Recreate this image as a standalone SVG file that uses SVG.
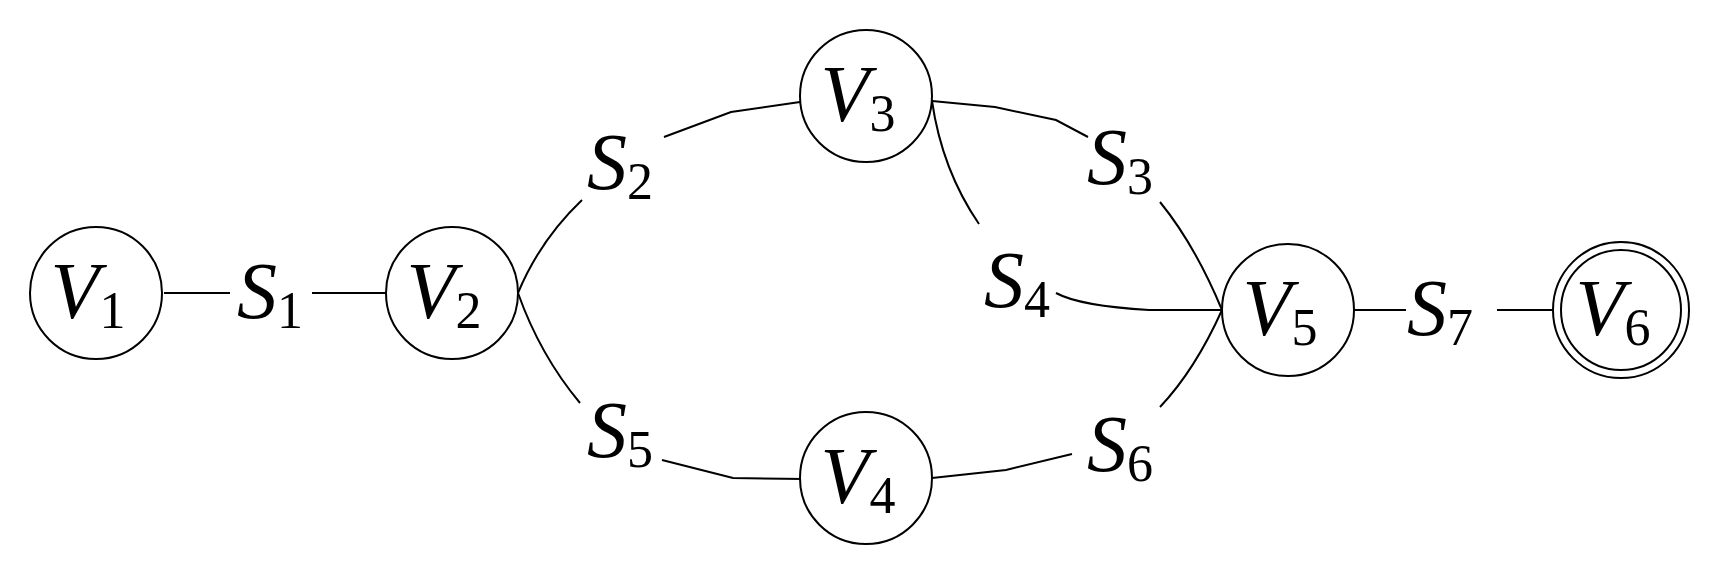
<svg xmlns="http://www.w3.org/2000/svg" width="1715" height="584" viewBox="0 0 1715 584">
<style>
.n{fill:#fff;stroke:#000;stroke-width:2}
.e{fill:none;stroke:#000;stroke-width:2}
text{font-family:"Liberation Serif",serif;font-style:italic;font-size:80px;text-anchor:middle}
.s{font-style:normal;font-size:52px}
</style>
<rect width="1715" height="584" fill="#fff"/>
<g id="edges">
<path class="e" d="M164,293H230M312,293H388"/>
<path class="e" d="M518,293Q540,240 582,200M664,137L731,112L800,102"/>
<path class="e" d="M932,101L995,107L1056,120L1088,137M1160,202Q1195,245 1222,310"/>
<path class="e" d="M932,101Q942,170 979,224M1056,293Q1080,306 1149,310L1222,310"/>
<path class="e" d="M518,293Q540,355 580,403M662,460L733,478L804,479"/>
<path class="e" d="M932,478L1006,470L1072,454M1160,407Q1195,370 1222,310"/>
<path class="e" d="M1354,310H1406M1497,310H1555"/>
</g>
<g id="V1"><circle class="n" cx="96" cy="293" r="66"/><text x="88" y="318">V<tspan class="s" dy="10">1</tspan></text></g>
<g id="V2"><circle class="n" cx="452" cy="293" r="66"/><text x="444" y="318">V<tspan class="s" dy="10">2</tspan></text></g>
<g id="V3"><circle class="n" cx="866" cy="96" r="66"/><text x="858" y="121">V<tspan class="s" dy="10">3</tspan></text></g>
<g id="V4"><circle class="n" cx="866" cy="478" r="66"/><text x="858" y="503">V<tspan class="s" dy="10">4</tspan></text></g>
<g id="V5"><circle class="n" cx="1288" cy="310" r="66"/><text x="1280" y="335">V<tspan class="s" dy="10">5</tspan></text></g>
<g id="V6"><circle class="n" cx="1621" cy="310" r="68"/><circle class="n" cx="1621" cy="310" r="60"/><text x="1613" y="335">V<tspan class="s" dy="10">6</tspan></text></g>
<g id="S1"><text x="270" y="318">S<tspan class="s" dy="10">1</tspan></text></g>
<g id="S2"><text x="620" y="189">S<tspan class="s" dy="10">2</tspan></text></g>
<g id="S3"><text x="1120" y="184">S<tspan class="s" dy="10">3</tspan></text></g>
<g id="S4"><text x="1017" y="307">S<tspan class="s" dy="10">4</tspan></text></g>
<g id="S5"><text x="620" y="457">S<tspan class="s" dy="10">5</tspan></text></g>
<g id="S6"><text x="1120" y="471">S<tspan class="s" dy="10">6</tspan></text></g>
<g id="S7"><text x="1440" y="335">S<tspan class="s" dy="10">7</tspan></text></g>
</svg>
